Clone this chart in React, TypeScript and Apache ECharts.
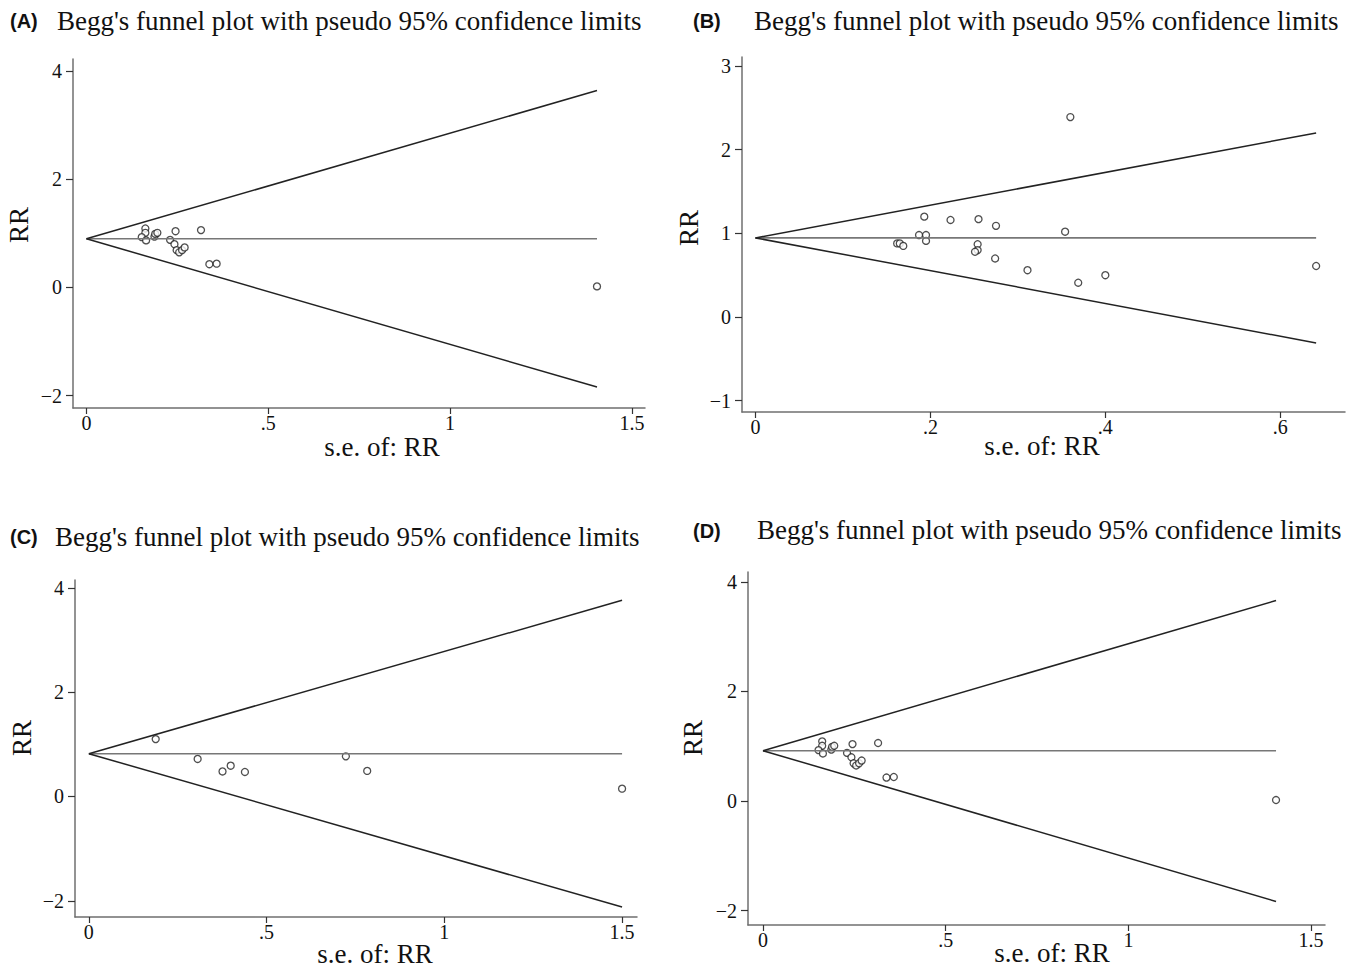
import React, { useEffect, useRef } from "react";
import * as echarts from "echarts";

// Panel A / D (same studies)
const seA = [0.162, 0.162, 0.152, 0.164, 0.187, 0.189, 0.195, 0.245, 0.315, 0.23, 0.242, 0.248, 0.255, 0.263, 0.27, 0.338, 0.358, 1.404];
const rrA = [1.09, 1.01, 0.93, 0.87, 0.94, 0.99, 1.01, 1.04, 1.06, 0.88, 0.8, 0.69, 0.65, 0.69, 0.74, 0.43, 0.44, 0.02];
const centerA = 0.9;
const upperA = [[0, 0.9], [1.404, 3.64]];
const lowerA = [[0, 0.9], [1.404, -1.84]];

// Panel B
const seB = [0.36, 0.193, 0.223, 0.255, 0.275, 0.354, 0.187, 0.195, 0.195, 0.162, 0.165, 0.169, 0.254, 0.254, 0.251, 0.274, 0.311, 0.369, 0.4, 0.641];
const rrB = [2.39, 1.2, 1.16, 1.17, 1.09, 1.02, 0.98, 0.98, 0.91, 0.88, 0.88, 0.85, 0.87, 0.8, 0.78, 0.7, 0.56, 0.41, 0.5, 0.61];
const centerB = 0.946;
const upperB = [[0, 0.946], [0.641, 2.2]];
const lowerB = [[0, 0.946], [0.641, -0.31]];

// Panel C
const seC = [0.188, 0.306, 0.376, 0.399, 0.439, 0.723, 0.783, 1.5];
const rrC = [1.1, 0.72, 0.48, 0.59, 0.47, 0.77, 0.49, 0.15];
const centerC = 0.82;
const upperC = [[0, 0.82], [1.5, 3.76]];
const lowerC = [[0, 0.82], [1.5, -2.12]];

// Panel D
const seD = seA;
const rrD = rrA;
const centerD = 0.92;
const upperD = [[0, 0.92], [1.404, 3.66]];
const lowerD = [[0, 0.92], [1.404, -1.83]];

const xTicksWide = [0, 0.5, 1, 1.5];
const xTicksB = [0, 0.2, 0.4, 0.6];
const yTicksA = [-2, 0, 2, 4];
const yTicksB = [-1, 0, 1, 2, 3];

const panelLetters = ["(A)", "(B)", "(C)", "(D)"];
const panelTitle = "Begg's funnel plot with pseudo 95% confidence limits";
const xName = "s.e. of: RR";
const yName = "RR";

const SERIF = "'Liberation Serif', 'Times New Roman', serif";
const SANS = "'Liberation Sans', Arial, sans-serif";

function fmt(v: number): string {
  if (v === 0) return "0";
  let s = String(v);
  s = s.replace(/^0\./, ".").replace(/^-0\./, "-.");
  return s.replace("-", "\u2212");
}

export default function App() {
  const ref = useRef<HTMLDivElement>(null);
  useEffect(() => {
    document.body.style.margin = "0";
    const chart = echarts.init(ref.current!, null, { renderer: "svg" });

    const panels = [
      { grid: { left: 73, top: 59, width: 572, height: 349 }, xMin: -0.037, xMax: 1.536, yMin: -2.227, yMax: 4.222, xt: xTicksWide, yt: yTicksA, se: seA, rr: rrA, c: centerA, up: upperA, lo: lowerA },
      { grid: { left: 742, top: 57, width: 603, height: 355 }, xMin: -0.0154, xMax: 0.674, yMin: -1.135, yMax: 3.108, xt: xTicksB, yt: yTicksB, se: seB, rr: rrB, c: centerB, up: upperB, lo: lowerB },
      { grid: { left: 75, top: 580, width: 562, height: 337 }, xMin: -0.039, xMax: 1.542, yMin: -2.31, yMax: 4.15, xt: xTicksWide, yt: yTicksA, se: seC, rr: rrC, c: centerC, up: upperC, lo: lowerC },
      { grid: { left: 748, top: 572, width: 577, height: 353 }, xMin: -0.041, xMax: 1.538, yMin: -2.26, yMax: 4.18, xt: xTicksWide, yt: yTicksA, se: seD, rr: rrD, c: centerD, up: upperD, lo: lowerD },
    ];

    const axisLineColor = "#6f6f6f";
    const grids: any[] = [];
    const xAxes: any[] = [];
    const yAxes: any[] = [];
    const series: any[] = [];

    panels.forEach((p, i) => {
      grids.push({ ...p.grid, containLabel: false });
      xAxes.push({
        type: "value",
        gridIndex: i,
        min: p.xMin,
        max: p.xMax,
        axisLine: { show: true, onZero: false, lineStyle: { color: axisLineColor, width: 1.5 } },
        axisTick: { show: true, length: 6, customValues: p.xt, lineStyle: { color: "#333", width: 1.2 } },
        axisLabel: { customValues: p.xt, formatter: (v: number) => fmt(v), fontFamily: SERIF, fontSize: 20, color: "#111", margin: 5 },
        splitLine: { show: false },
      });
      yAxes.push({
        type: "value",
        gridIndex: i,
        min: p.yMin,
        max: p.yMax,
        axisLine: { show: true, onZero: false, lineStyle: { color: axisLineColor, width: 1.5 } },
        axisTick: { show: true, length: 7, customValues: p.yt, lineStyle: { color: "#333", width: 1.2 } },
        axisLabel: { customValues: p.yt, formatter: (v: number) => fmt(v), fontFamily: SERIF, fontSize: 20, color: "#111", margin: 11 },
        splitLine: { show: false },
      });
      const lastSe = p.up[1][0];
      series.push({
        type: "line",
        xAxisIndex: i,
        yAxisIndex: i,
        data: [[0, p.c], [lastSe, p.c]],
        symbol: "none",
        lineStyle: { color: "#777", width: 1.6 },
        silent: true,
      });
      series.push({
        type: "line",
        xAxisIndex: i,
        yAxisIndex: i,
        data: p.up,
        symbol: "none",
        lineStyle: { color: "#222", width: 1.5 },
        silent: true,
      });
      series.push({
        type: "line",
        xAxisIndex: i,
        yAxisIndex: i,
        data: p.lo,
        symbol: "none",
        lineStyle: { color: "#222", width: 1.5 },
        silent: true,
      });
      series.push({
        type: "scatter",
        xAxisIndex: i,
        yAxisIndex: i,
        data: p.se.map((s, k) => [s, p.rr[k]]),
        symbol: "circle",
        symbolSize: 7,
        itemStyle: { color: "#fff", borderColor: "#222", borderWidth: 1.3 },
      });
    });

    const titlePos = [
      { lx: 10, ly: 21, tx: 57, ty: 21 },
      { lx: 693, ly: 21, tx: 754, ty: 21 },
      { lx: 10, ly: 537, tx: 55, ty: 537 },
      { lx: 693, ly: 531, tx: 757, ty: 530 },
    ];
    const axisNamePos = [
      { xx: 382, xy: 447, yx: 19, yy: 225 },
      { xx: 1042, xy: 446, yx: 689, yy: 228 },
      { xx: 375, xy: 954, yx: 22, yy: 738 },
      { xx: 1052, xy: 953, yx: 693, yy: 738 },
    ];
    const graphics: any[] = [];
    titlePos.forEach((t, i) => {
      graphics.push({
        type: "text",
        x: t.lx,
        y: t.ly,
        style: { text: panelLetters[i], font: `bold 20px ${SANS}`, fill: "#111", verticalAlign: "middle" },
      });
      graphics.push({
        type: "text",
        x: t.tx,
        y: t.ty,
        style: { text: panelTitle, font: `27px ${SERIF}`, fill: "#111", verticalAlign: "middle" },
      });
      const a = axisNamePos[i];
      graphics.push({
        type: "text",
        x: a.xx,
        y: a.xy,
        style: { text: xName, font: `27px ${SERIF}`, fill: "#111", align: "center", verticalAlign: "middle" },
      });
      graphics.push({
        type: "text",
        x: a.yx,
        y: a.yy,
        rotation: Math.PI / 2,
        style: { text: yName, font: `27px ${SERIF}`, fill: "#111", align: "center", verticalAlign: "middle" },
      });
    });

    chart.setOption({
      animation: false,
      backgroundColor: "#fff",
      grid: grids,
      xAxis: xAxes,
      yAxis: yAxes,
      series,
      graphic: graphics,
    });
    return () => chart.dispose();
  }, []);
  return <div ref={ref} style={{ width: 1356, height: 970, position: "absolute", left: 0, top: 0 }} />;
}
